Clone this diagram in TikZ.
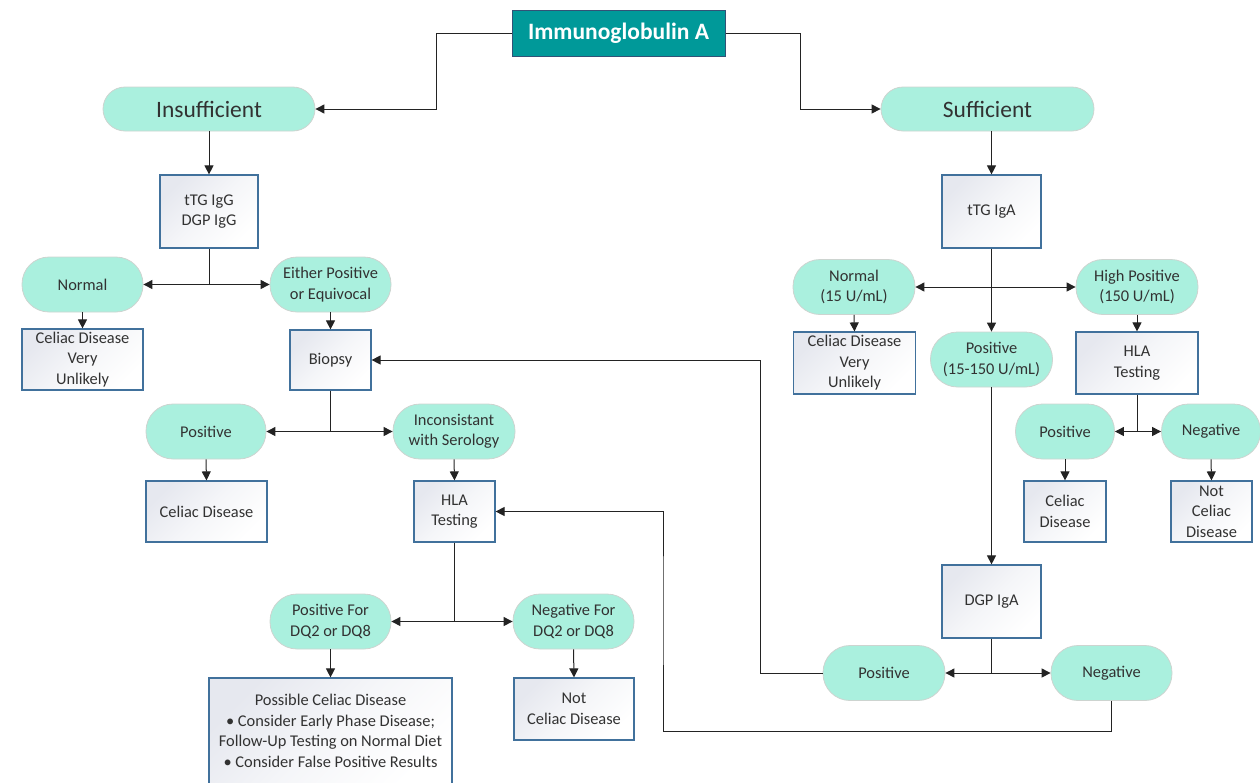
\documentclass[tikz,border=0pt]{standalone}
\usepackage{fontspec}
\setmainfont{Carlito}
\usetikzlibrary{arrows.meta}
\definecolor{pillfill}{RGB}{170,240,222}
\definecolor{pillborder}{RGB}{205,212,208}
\definecolor{boxborder}{RGB}{65,113,156}
\definecolor{boxgray}{RGB}{230,232,239}
\definecolor{hdrfill}{RGB}{0,153,153}
\definecolor{hdrborder}{RGB}{50,82,118}
\definecolor{txt}{RGB}{50,50,50}
\definecolor{linec}{RGB}{35,35,35}
\newcommand{\fsn}{\fontsize{16.4}{20.5}\selectfont}
\newcommand{\fsb}{\fontsize{23.5}{27}\selectfont}
\newcommand{\fsh}{\fontsize{23.5}{27}\selectfont}
\begin{document}
\begin{tikzpicture}[x=1pt,y=-1pt,
  every node/.style={text=txt, font=\fsn, align=center, inner sep=0pt},
  pill/.style={draw=pillborder, line width=0.8pt, fill=pillfill, rounded corners=27pt, minimum height=55pt},
  bigpill/.style={pill, rounded corners=22pt, minimum height=44pt, font=\fsb},
  box/.style={draw=boxborder, line width=1.2pt, top color=boxgray, bottom color=white, middle color=white!60!boxgray, shading angle=45},
  hdr/.style={draw=hdrborder, line width=1pt, fill=hdrfill, text=white, font=\fsh\bfseries},
  conn/.style={draw=linec, line width=1pt},
  arr/.style={conn, -{Triangle[length=9pt,width=9pt]}},
  darr/.style={conn, {Triangle[length=9pt,width=9pt]}-{Triangle[length=9pt,width=9pt]}}
]
\useasboundingbox (0,0) rectangle (1260,782);
% header
\node[hdr, minimum width=213pt, minimum height=46pt] (hdr) at (618.5,33) {Immunoglobulin A};
\node[bigpill, minimum width=212pt] (ins) at (209,109) {Insufficient};
\node[bigpill, minimum width=213pt] (suf) at (987.5,109) {Sufficient};
% left branch
\node[box, minimum width=98pt, minimum height=73pt] (tgg) at (209,211.5) {tTG IgG\\DGP IgG};
\node[pill, minimum width=121pt] (lnorm) at (82.5,284.5) {Normal};
\node[pill, minimum width=121pt] (either) at (330.5,284.5) {Either Positive\\or Equivocal};
\node[box, minimum width=121pt, minimum height=61pt] (lunl) at (82.5,359.5) {Celiac Disease\\Very\\Unlikely};
\node[box, minimum width=81pt, minimum height=60pt] (biop) at (330.5,360) {Biopsy};
\node[pill, minimum width=120pt] (lpos) at (206,431.5) {Positive};
\node[pill, minimum width=122pt] (incon) at (454,431.5) {Inconsistant\\with Serology};
\node[box, minimum width=121pt, minimum height=61pt] (lcd) at (206.5,511.5) {Celiac Disease};
\node[box, minimum width=81pt, minimum height=61pt] (lhla) at (454.5,511.5) {HLA\\Testing};
\node[pill, minimum width=121pt] (posdq) at (330.5,621.5) {Positive For\\DQ2 or DQ8};
\node[pill, minimum width=121pt] (negdq) at (573.5,621.5) {Negative For\\DQ2 or DQ8};
\node[box, minimum width=243pt, minimum height=106pt] (poss) at (330.5,731) {Possible Celiac Disease\\\textbullet\ Consider Early Phase Disease;\\Follow-Up Testing on Normal Diet\\\textbullet\ Consider False Positive Results};
\node[box, minimum width=120pt, minimum height=62pt] (lnot) at (574,709) {Not\\Celiac Disease};
% right branch
\node[box, minimum width=99pt, minimum height=73pt] (tga) at (991.5,211.5) {tTG IgA};
\node[pill, minimum width=122pt] (rnorm) at (854,287) {Normal\\(15 U/mL)};
\node[pill, minimum width=122pt] (hpos) at (1137,287) {High Positive\\(150 U/mL)};
\node[pill, minimum width=122pt] (rpos) at (991.5,359.5) {Positive\\(15-150 U/mL)};
\node[box, minimum width=122pt, minimum height=62pt] (runl) at (854.5,363) {Celiac Disease\\Very\\Unlikely};
\node[box, minimum width=122pt, minimum height=62pt] (rhla) at (1137,363) {HLA\\Testing};
\node[pill, minimum width=99pt] (rhpos) at (1065,431.5) {Positive};
\node[pill, minimum width=99pt] (rhneg) at (1211,431.5) {Negative};
\node[box, minimum width=82pt, minimum height=61pt] (rcd) at (1065,511.5) {Celiac\\Disease};
\node[box, minimum width=81pt, minimum height=61pt] (rnot) at (1211.5,511.5) {Not\\Celiac\\Disease};
\node[box, minimum width=99pt, minimum height=73pt] (dgp) at (991.5,601.5) {DGP IgA};
\node[pill, minimum width=122pt] (dpos) at (884,673) {Positive};
\node[pill, minimum width=121pt] (dneg) at (1111.5,673) {Negative};
% connectors: top
\draw[arr] (hdr.west) -- ++(-75,0) |- (ins.east);
\draw[arr] (hdr.east) -- ++(75,0) |- (suf.west);
% left
\draw[arr] (ins.south) -- (tgg.north);
\draw[conn] (tgg.south) -- (tgg.south |- lnorm.east);
\draw[darr] (lnorm.east) -- (either.west);
\draw[arr] (lnorm.south) -- (lunl.north);
\draw[arr] (either.south) -- (biop.north);
\draw[conn] (biop.south) -- (biop.south |- lpos.east);
\draw[darr] (lpos.east) -- (incon.west);
\draw[arr] (lpos.south) -- (lcd.north);
\draw[arr] (incon.south) -- (lhla.north);
\draw[conn] (lhla.south) -- (lhla.south |- posdq.east);
\draw[darr] (posdq.east) -- (negdq.west);
\draw[arr] (posdq.south) -- (poss.north);
\draw[arr] (negdq.south) -- (lnot.north);
% right
\draw[arr] (suf.south -| tga.north) -- (tga.north);
\draw[arr] (tga.south) -- (rpos.north);
\draw[darr] (rnorm.east) -- (hpos.west);
\draw[arr] (rnorm.south) -- (runl.north);
\draw[arr] (hpos.south) -- (rhla.north);
\draw[conn] (rhla.south) -- (rhla.south |- rhpos.east);
\draw[darr] (rhpos.east) -- (rhneg.west);
\draw[arr] (rhpos.south) -- (rcd.north);
\draw[arr] (rhneg.south) -- (rnot.north);
\draw[arr] (rpos.south) -- (dgp.north);
\draw[conn] (dgp.south) -- (dgp.south |- dpos.east);
\draw[darr] (dpos.east) -- (dneg.west);
% feedback
\draw[arr] (dpos.west) -- ++(-62,0) |- (biop.east);
\draw[arr] (dneg.south) -- ++(0,31) -| (663,600) |- (lhla.east);
\end{tikzpicture}
\end{document}
